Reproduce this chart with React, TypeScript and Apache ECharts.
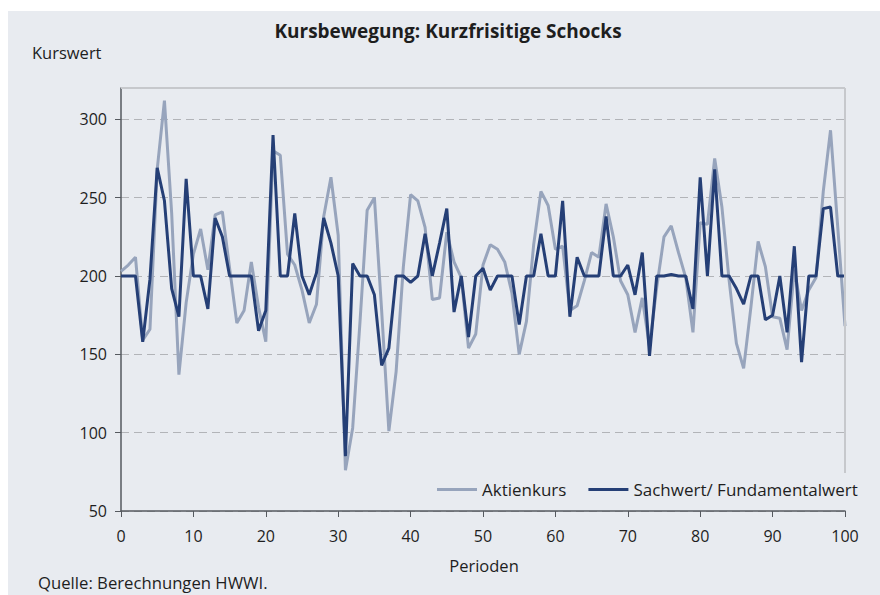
import React, { useEffect, useRef } from "react";
import * as echarts from "echarts";

const periods: number[] = Array.from({ length: 101 }, (_, i) => i);

const aktienkurs: number[] = [
  203, 207, 212, 159, 166, 268, 312, 240, 137, 183,
  214, 230, 204, 239, 241, 205, 170, 178, 209, 180,
  158, 280, 277, 214, 207, 191, 170, 182, 238, 263,
  226, 76, 103, 170, 242, 250, 178, 101, 139, 206,
  252, 248, 231, 185, 186, 228, 209, 199, 154, 163,
  207, 220, 217, 209, 189, 150, 171, 220, 254, 245,
  217, 219, 178, 181, 197, 215, 212, 246, 225, 197,
  188, 164, 186, 155, 193, 225, 232, 215, 199, 164,
  234, 233, 275, 244, 197, 157, 141, 180, 222, 206,
  174, 173, 153, 204, 178, 191, 199, 254, 293, 231,
  168,
];

const sachwert: number[] = [
  200, 200, 200, 158, 198, 269, 248, 192, 174, 262,
  200, 200, 179, 237, 225, 200, 200, 200, 200, 165,
  178, 290, 200, 200, 240, 200, 188, 202, 237, 221,
  200, 85, 208, 200, 200, 188, 143, 154, 200, 200,
  196, 200, 227, 200, 221, 243, 177, 200, 161, 200,
  205, 191, 200, 200, 200, 169, 200, 200, 227, 200,
  200, 248, 174, 212, 200, 200, 200, 238, 200, 200,
  207, 188, 215, 149, 200, 200, 201, 200, 200, 179,
  263, 200, 268, 200, 200, 192, 182, 200, 200, 172,
  175, 200, 164, 219, 145, 200, 200, 243, 244, 200,
  200,
];

const yTicks: number[] = [50, 100, 150, 200, 250, 300];

const FONT = "Open Sans";
const TXT = "#1e1e1e";

export default function App() {
  const ref = useRef<HTMLDivElement>(null);
  useEffect(() => {
    if (!ref.current) return;
    const chart = echarts.init(ref.current, undefined, { renderer: "svg" });
    chart.setOption({
      animation: false,
      backgroundColor: "transparent",
      textStyle: { fontFamily: FONT, color: TXT },
      grid: { left: 121, right: 35, top: 88, bottom: 84, containLabel: false },
      legend: {
        left: 437,
        top: 481,
        padding: 0,
        icon: "rect",
        itemWidth: 40,
        itemHeight: 3,
        itemGap: 22,
        textStyle: { fontFamily: FONT, fontSize: 17, color: TXT },
        data: ["Aktienkurs", "Sachwert/ Fundamentalwert"],
      },
      xAxis: {
        type: "value",
        min: 0,
        max: 100,
        interval: 10,
        axisLine: { show: true, lineStyle: { color: "#55595f", width: 1.5 } },
        axisTick: { show: true, length: 6, lineStyle: { color: "#55595f", width: 1 } },
        axisLabel: { fontFamily: FONT, fontSize: 16, color: TXT, margin: 17 },
        splitLine: { show: false },
      },
      yAxis: {
        type: "value",
        min: 50,
        max: 320,
        interval: 50,
        axisLine: { show: true, lineStyle: { color: "#55595f", width: 1.5 } },
        axisTick: {
          show: true,
          length: 6,
          customValues: yTicks,
          lineStyle: { color: "#55595f", width: 1 },
        },
        axisLabel: {
          fontFamily: FONT,
          fontSize: 16,
          color: TXT,
          margin: 14,
          customValues: yTicks,
        },
        splitLine: { show: true, lineStyle: { color: "#b2b4b8", type: [8, 5], width: 1 } },
      },
      graphic: [
        {
          type: "line",
          z: 50,
          shape: { x1: 121, y1: 88, x2: 845, y2: 88 },
          style: { stroke: "#c6c8cc", lineWidth: 2 },
        },
        {
          type: "line",
          z: 50,
          shape: { x1: 845, y1: 88, x2: 845, y2: 473 },
          style: { stroke: "#c6c8cc", lineWidth: 2 },
        },
        {
          type: "text",
          x: 448,
          y: 31,
          style: {
            text: "Kursbewegung: Kurzfrisitige Schocks",
            font: `bold 19px ${FONT}`,
            fill: TXT,
            textAlign: "center",
            textVerticalAlign: "middle",
          },
        },
        {
          type: "text",
          x: 32,
          y: 52,
          style: { text: "Kurswert", font: `16.5px ${FONT}`, fill: TXT, textVerticalAlign: "middle" },
        },
        {
          type: "text",
          x: 484,
          y: 565,
          style: {
            text: "Perioden",
            font: `16.5px ${FONT}`,
            fill: TXT,
            textAlign: "center",
            textVerticalAlign: "middle",
          },
        },
        {
          type: "text",
          x: 38,
          y: 582,
          style: {
            text: "Quelle: Berechnungen HWWI.",
            font: `16.7px ${FONT}`,
            fill: TXT,
            textVerticalAlign: "middle",
          },
        },
      ],
      series: [
        {
          name: "Aktienkurs",
          type: "line",
          symbol: "none",
          data: periods.map((p, i) => [p, aktienkurs[i]]),
          lineStyle: { color: "#97a4bc", width: 3 },
          itemStyle: { color: "#97a4bc" },
          z: 2,
        },
        {
          name: "Sachwert/ Fundamentalwert",
          type: "line",
          symbol: "none",
          data: periods.map((p, i) => [p, sachwert[i]]),
          lineStyle: { color: "#253f76", width: 3 },
          itemStyle: { color: "#253f76" },
          z: 3,
        },
      ],
    });
    return () => chart.dispose();
  }, []);

  return (
    <div style={{ position: "absolute", left: 0, top: 0, width: 880, height: 595, background: "#ffffff" }}>
      <div
        style={{
          position: "absolute",
          left: 8,
          top: 11,
          width: 872,
          height: 584,
          background: "#e8ebf0",
        }}
      />
      <div ref={ref} style={{ position: "absolute", left: 0, top: 0, width: 880, height: 595 }} />
    </div>
  );
}
